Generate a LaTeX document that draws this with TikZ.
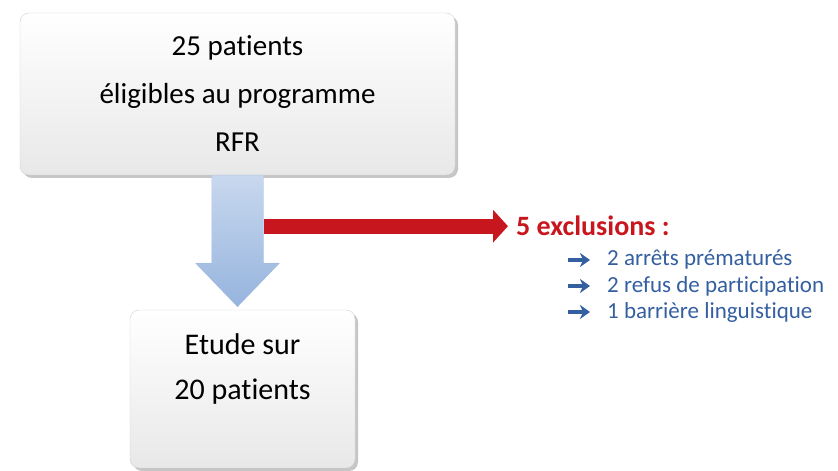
\documentclass[tikz,border=0pt]{standalone}
\usepackage{fontspec}
\setmainfont{Carlito}[Ligatures=NoCommon]
\usetikzlibrary{positioning,shadows,arrows.meta,calc}
\definecolor{exclred}{RGB}{200,22,30}
\definecolor{listblue}{RGB}{52,95,160}
\definecolor{flowtop}{RGB}{200,216,238}
\definecolor{flowbot}{RGB}{150,180,222}
\tikzset{
  patbox/.style={draw=gray!35, rounded corners=9pt, top color=white, bottom color=gray!18,
    drop shadow={shadow xshift=3pt, shadow yshift=-3pt, opacity=.45}, align=center},
  itemtext/.style={anchor=west, text=listblue, inner sep=0pt, font=\fontsize{23}{26}\selectfont},
  itemmark/.style={listblue, line width=4pt, -{Stealth[length=10pt,width=14pt,inset=3pt]}},
}
\begin{document}
\begin{tikzpicture}[x=1pt,y=1pt]
\useasboundingbox (0,0) rectangle (838,471);

% boxes
\node[patbox, minimum width=435pt, minimum height=162pt, font=\fontsize{29}{48}\selectfont] (elig) at (237.5,377)
  {25 patients\\éligibles au programme\\RFR};
\node[patbox, minimum width=225pt, minimum height=158pt, font=\fontsize{30}{45}\selectfont] (etude) at (242.5,82)
  {Etude sur\\20 patients\\~};

% big arrow between the boxes
\coordinate (tip) at ($(etude.north -| elig.south)+(0,3)$);
\shade[top color=flowtop, bottom color=flowbot, draw=flowbot!90!black, draw opacity=.3]
  ($(elig.south)+(-26,0)$) -- ($(elig.south)+(26,0)$) -- ($(elig.south)+(26,-88)$)
  -- ($(elig.south)+(42,-88)$) -- (tip) -- ($(elig.south)+(-42,-88)$)
  -- ($(elig.south)+(-26,-88)$) -- cycle;

% exclusions
\coordinate (split) at ($(elig.south)+(26,-51)$);
\node[text=exclred, font=\bfseries\fontsize{28}{30}\selectfont, anchor=west,
  inner xsep=6pt, inner ysep=2pt] (excl) at (510,245) {5 exclusions :};
\draw[exclred, line width=15pt, -{Triangle[length=15pt,width=32pt]}, shorten >=2pt]
  (split) -- (split -| excl.west);

\foreach \i/\txt in {1/2 arrêts prématurés, 2/2 refus de participation, 3/1 barrière linguistique}{
  \node[itemtext] (item\i) at (607,237-26*\i) {\txt};
  \draw[itemmark] ($(item\i.west)+(-39,0)$) -- ($(item\i.west)+(-17,0)$);
}
\end{tikzpicture}
\end{document}
